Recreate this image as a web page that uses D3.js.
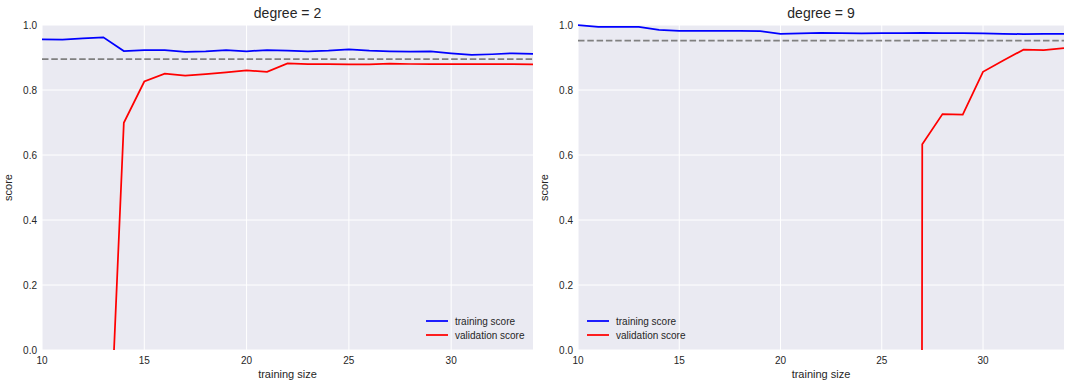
<!DOCTYPE html>
<html><head><meta charset="utf-8">
<script src="https://cdn.jsdelivr.net/npm/d3@7"></script>
<style>
body{margin:0;background:#fff;}
text{font-family:"Liberation Sans",Arial,sans-serif;}
</style></head>
<body><svg id="c" width="1071" height="387"></svg>
<script>
const trainSizes = [10,11,12,13,14,15,16,17,18,19,20,21,22,23,24,25,26,27,28,29,30,31,32,33,34];
const train2 = [0.956,0.955,0.959,0.962,0.920,0.923,0.923,0.917,0.919,0.923,0.919,0.923,0.921,0.919,0.921,0.925,0.921,0.919,0.918,0.919,0.913,0.908,0.910,0.913,0.911];
const valSizes2 = [13,14,15,16,17,18,19,20,21,22,23,24,25,26,27,28,29,30,31,32,33,34];
const val2 = [-0.757,0.699,0.826,0.850,0.844,0.849,0.854,0.860,0.856,0.882,0.880,0.880,0.879,0.879,0.881,0.880,0.880,0.880,0.880,0.880,0.880,0.879];
const train9 = [1.0,0.994,0.994,0.994,0.985,0.982,0.982,0.982,0.982,0.981,0.973,0.974,0.976,0.975,0.974,0.975,0.975,0.976,0.975,0.975,0.974,0.973,0.972,0.973,0.973];
const valSizes9 = [26,27,28,29,30,31,32,33,34];
const val9 = [-50,0.633,0.726,0.724,0.856,0.891,0.924,0.923,0.929];
const ref2 = 0.895, ref9 = 0.952;
const xTicks = [10,15,20,25,30];
const yTicks = [0,0.2,0.4,0.6,0.8,1.0];
const titles = ["degree = 2","degree = 9"];
const legendLabels = ["training score","validation score"];

const svg = d3.select("#c");
const panels = [
  {left:42,right:533,title:titles[0],train:train2,vx:valSizes2,val:val2,ref:ref2,legend:"right",ylab:12},
  {left:578,right:1064,title:titles[1],train:train9,vx:valSizes9,val:val9,ref:ref9,legend:"left",ylab:548}
];
const pTop=25,pBottom=350;
panels.forEach((p,i)=>{
  const x = d3.scaleLinear().domain([10,34]).range([p.left,p.right]);
  const y = d3.scaleLinear().domain([0,1]).range([pBottom,pTop]);
  const g = svg.append("g");
  g.append("rect").attr("x",p.left).attr("y",pTop).attr("width",p.right-p.left).attr("height",pBottom-pTop).attr("fill","#EAEAF2");
  const cid="clip"+i;
  g.append("clipPath").attr("id",cid).append("rect").attr("x",p.left).attr("y",pTop-1).attr("width",p.right-p.left).attr("height",pBottom-pTop+1);
  g.selectAll(".gx").data(xTicks).join("line").attr("x1",d=>x(d)).attr("x2",d=>x(d)).attr("y1",pTop).attr("y2",pBottom).attr("stroke","#fff").attr("stroke-width",1);
  g.selectAll(".gy").data(yTicks).join("line").attr("y1",d=>y(d)).attr("y2",d=>y(d)).attr("x1",p.left).attr("x2",p.right).attr("stroke","#fff").attr("stroke-width",1);
  g.selectAll(".tx").data(xTicks).join("text").attr("x",d=>x(d)).attr("y",pBottom+14).attr("text-anchor","middle").attr("font-size",10).attr("fill","#262626").text(d=>d);
  g.selectAll(".ty").data(yTicks).join("text").attr("x",p.left-5).attr("y",d=>y(d)+3.5).attr("text-anchor","end").attr("font-size",10).attr("fill","#262626").text(d=>d.toFixed(1));
  g.append("text").attr("x",(p.left+p.right)/2).attr("y",18).attr("text-anchor","middle").attr("font-size",14).attr("fill","#262626").text(p.title);
  g.append("text").attr("x",(p.left+p.right)/2).attr("y",378).attr("text-anchor","middle").attr("font-size",11).attr("fill","#262626").text("training size");
  g.append("text").attr("transform",`translate(${p.ylab},${(pTop+pBottom)/2}) rotate(-90)`).attr("text-anchor","middle").attr("font-size",11).attr("fill","#262626").text("score");
  const pg = g.append("g").attr("clip-path",`url(#${cid})`);
  const line = d3.line().x(d=>x(d[0])).y(d=>y(d[1]));
  pg.append("path").datum(trainSizes.map((s,k)=>[s,p.train[k]])).attr("d",line).attr("fill","none").attr("stroke","#0000ff").attr("stroke-width",1.75);
  pg.append("path").datum(p.vx.map((s,k)=>[s,p.val[k]])).attr("d",line).attr("fill","none").attr("stroke","#ff0000").attr("stroke-width",1.75);
  pg.append("line").attr("x1",p.left).attr("x2",p.right).attr("y1",y(p.ref)).attr("y2",y(p.ref)).attr("stroke","#808080").attr("stroke-width",1.75).attr("stroke-dasharray","6.5,2.8");
  const lx = p.legend==="right" ? 426 : 587;
  const cols=["#0000ff","#ff0000"];
  legendLabels.forEach((t,k)=>{
    const ly = 321+k*14;
    g.append("line").attr("x1",lx).attr("x2",lx+22).attr("y1",ly).attr("y2",ly).attr("stroke",cols[k]).attr("stroke-width",1.75);
    g.append("text").attr("x",lx+29).attr("y",ly+3.5).attr("font-size",10).attr("fill","#262626").text(t);
  });
});
</script></body></html>
